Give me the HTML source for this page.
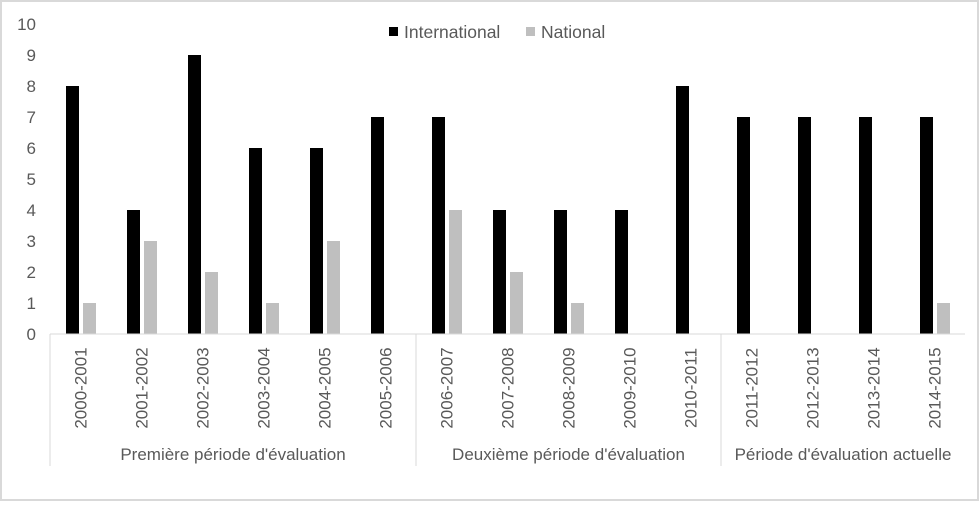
<!DOCTYPE html>
<html><head><meta charset="utf-8"><style>
body{margin:0;background:#fff}
svg text{font-family:"Liberation Sans",sans-serif;fill:#595959}
</style></head><body>
<svg width="979" height="501">
<rect x="1" y="1" width="977" height="499" fill="#fff" stroke="#d9d9d9" stroke-width="2"/>
<g id="g"></g>
</svg>
<script>
const categories=["2000-2001","2001-2002","2002-2003","2003-2004","2004-2005","2005-2006","2006-2007","2007-2008","2008-2009","2009-2010","2010-2011","2011-2012","2012-2013","2013-2014","2014-2015"];
const international=[8,4,9,6,6,7,7,4,4,4,8,7,7,7,7];
const national=[1,3,2,1,3,0,4,2,1,0,0,0,0,0,1];
const yTicks=[0,1,2,3,4,5,6,7,8,9,10];
const groups=[{label:"Première période d'évaluation",start:0,end:6},{label:"Deuxième période d'évaluation",start:6,end:11},{label:"Période d'évaluation actuelle",start:11,end:15}];
const NS="http://www.w3.org/2000/svg",g=document.getElementById('g');
const x0=50,x1=965,y0=334,unit=31,cw=(x1-x0)/categories.length;
const y=v=>y0-v*unit, xc=i=>x0+i*cw;
function mk(t,a,txt){const e=document.createElementNS(NS,t);for(const k in a)e.setAttribute(k,a[k]);if(txt!==undefined)e.textContent=txt;g.appendChild(e);return e;}
yTicks.forEach(v=>{const e=mk('text',{x:36,y:y(v)+6,'text-anchor':'end','font-size':17},v);

});
categories.forEach((c,i)=>{
 const a=mk('rect',{x:xc(i)+16,y:y(international[i]),width:13,height:international[i]*unit,fill:'#000'});
 
 
 const b=mk('rect',{x:xc(i)+33,y:y(national[i]),width:13,height:national[i]*unit,fill:'#bfbfbf'});
 
 
 const cx=xc(i)+cw/2+6;
 const t=mk('text',{x:0,y:0,transform:`translate(${cx},388) rotate(-90)`,'text-anchor':'middle','font-size':17},c);
 
 
});
const ax=mk('line',{x1:x0,y1:y0,x2:x1,y2:y0,stroke:'#d9d9d9','stroke-width':1});


[0,6,11].forEach(k=>{const l=mk('line',{x1:xc(k),y1:y0,x2:xc(k),y2:466,stroke:'#d9d9d9'});

});
groups.forEach(gr=>{const t=mk('text',{x:(xc(gr.start)+xc(gr.end))/2,y:460,'text-anchor':'middle','font-size':17},gr.label);

});
const l1=mk('rect',{x:389,y:27,width:9,height:9,fill:'#000'});


const t1=mk('text',{x:404,y:38,'font-size':17.5},'International');


const l2=mk('rect',{x:526,y:27,width:9,height:9,fill:'#bfbfbf'});


const t2=mk('text',{x:541,y:38,'font-size':17.5},'National');


</script>
</body></html>
